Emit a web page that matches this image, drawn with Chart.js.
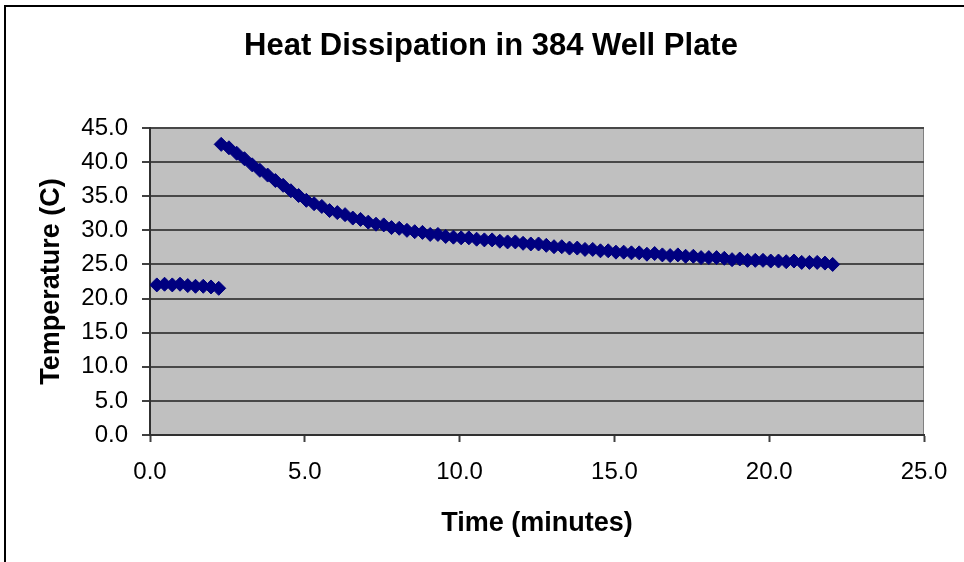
<!DOCTYPE html>
<html lang="en">
<head>
    <meta charset="UTF-8">
    <title>Heat Dissipation in 384 Well Plate</title>
    <script src="https://cdn.jsdelivr.net/npm/chart.js"></script>
    <style>
        body {
            margin: 0;
            background-color: #ffffff;
        }
        #heatChart {
            display: block;
        }
    </style>
</head>
<body>
    <canvas id="heatChart" width="964" height="562"></canvas>

    <script>
        // Readings before the plate was heated
        const warmTimes = [0.22, 0.47, 0.72, 0.97, 1.22, 1.47, 1.72, 1.97, 2.22];
        const warmTemps = [22.0, 22.1, 22.0, 22.1, 21.9, 21.8, 21.8, 21.7, 21.5];

        // Readings while the plate cools down
        const coolTimes = [
            2.30, 2.55, 2.80, 3.05, 3.30, 3.55, 3.80, 4.05, 4.30, 4.55,
            4.80, 5.05, 5.30, 5.55, 5.80, 6.05, 6.30, 6.55, 6.80, 7.05,
            7.30, 7.55, 7.80, 8.05, 8.30, 8.55, 8.80, 9.05, 9.30, 9.55,
            9.80, 10.05, 10.30, 10.55, 10.80, 11.05, 11.30, 11.55, 11.80, 12.05,
            12.30, 12.55, 12.80, 13.05, 13.30, 13.55, 13.80, 14.05, 14.30, 14.55,
            14.80, 15.05, 15.30, 15.55, 15.80, 16.05, 16.30, 16.55, 16.80, 17.05,
            17.30, 17.55, 17.80, 18.05, 18.30, 18.55, 18.80, 19.05, 19.30, 19.55,
            19.80, 20.05, 20.30, 20.55, 20.80, 21.05, 21.30, 21.55, 21.80, 22.05
        ];
        const coolTemps = [
            42.6, 42.1, 41.3, 40.5, 39.6, 38.8, 38.1, 37.3, 36.6, 35.8,
            35.1, 34.4, 33.9, 33.5, 32.9, 32.6, 32.3, 31.8, 31.6, 31.2,
            30.9, 30.8, 30.4, 30.3, 30.0, 29.8, 29.7, 29.4, 29.4, 29.1,
            29.0, 28.9, 28.9, 28.7, 28.6, 28.6, 28.4, 28.3, 28.3, 28.1,
            28.0, 28.0, 27.8, 27.6, 27.6, 27.4, 27.4, 27.2, 27.2, 27.0,
            27.0, 26.8, 26.8, 26.7, 26.7, 26.5, 26.6, 26.4, 26.3, 26.4,
            26.2, 26.2, 26.0, 26.0, 26.0, 25.9, 25.7, 25.8, 25.6, 25.6,
            25.6, 25.5, 25.5, 25.4, 25.5, 25.3, 25.3, 25.3, 25.2, 25.0
        ];

        const xTicks = [0, 5, 10, 15, 20, 25];
        const yTicks = [0, 5, 10, 15, 20, 25, 30, 35, 40, 45];

        const chartTitle = 'Heat Dissipation in 384 Well Plate';
        const xTitle = 'Time (minutes)';
        const yTitle = 'Temperature (C)';

        const FONT = "'Liberation Sans', Arial, sans-serif";

        const points = [];
        warmTimes.forEach((t, i) => points.push({ x: t, y: warmTemps[i] }));
        coolTimes.forEach((t, i) => points.push({ x: t, y: coolTemps[i] }));

        // grey plot area, frame lines and the heading
        const chartDecor = {
            id: 'chartDecor',
            beforeDraw(chart) {
                const { ctx, chartArea: a } = chart;
                ctx.save();
                ctx.fillStyle = '#ffffff';
                ctx.fillRect(0, 0, chart.width, chart.height);
                ctx.fillStyle = '#c0c0c0';
                ctx.fillRect(a.left, a.top, a.right - a.left, a.bottom - a.top);
                ctx.strokeStyle = '#808080';
                ctx.lineWidth = 1;
                ctx.strokeRect(a.left + 0.5, a.top + 0.5, a.right - a.left - 1, a.bottom - a.top - 1);

                ctx.strokeStyle = '#000000';
                ctx.lineWidth = 2;
                ctx.beginPath();
                ctx.moveTo(5, chart.height);
                ctx.lineTo(5, 6);
                ctx.lineTo(chart.width, 6);
                ctx.stroke();

                ctx.fillStyle = '#000000';
                ctx.font = 'bold 31px ' + FONT;
                ctx.textAlign = 'center';
                ctx.textBaseline = 'alphabetic';
                ctx.fillText(chartTitle, 491, 55);
                ctx.restore();
            }
        };

        new Chart(document.getElementById('heatChart'), {
            type: 'scatter',
            data: {
                datasets: [{
                    label: 'Temperature',
                    data: points,
                    pointStyle: 'rectRot',
                    pointRadius: 7,
                    pointHoverRadius: 7,
                    borderWidth: 1,
                    borderColor: '#000080',
                    backgroundColor: '#000080'
                }]
            },
            options: {
                responsive: false,
                animation: false,
                devicePixelRatio: 1,
                layout: {
                    padding: { top: 128, right: 40, bottom: 0, left: 0 }
                },
                plugins: {
                    legend: { display: false },
                    tooltip: { enabled: false }
                },
                scales: {
                    x: {
                        type: 'linear',
                        min: 0,
                        max: 25,
                        afterBuildTicks: scale => {
                            scale.ticks = xTicks.map(v => ({ value: v }));
                        },
                        afterFit: scale => {
                            scale.height = 127;
                        },
                        grid: {
                            drawOnChartArea: false,
                            drawTicks: true,
                            tickLength: 7,
                            tickColor: '#404040',
                            tickWidth: 2
                        },
                        border: { color: '#303030', width: 2 },
                        ticks: {
                            padding: 16,
                            color: '#000000',
                            font: { family: FONT, size: 24 },
                            callback: v => v.toFixed(1)
                        },
                        title: {
                            display: true,
                            text: xTitle,
                            color: '#000000',
                            font: { family: FONT, size: 27, weight: 'bold' },
                            padding: { top: 0, bottom: 22 }
                        }
                    },
                    y: {
                        type: 'linear',
                        min: 0,
                        max: 45,
                        afterBuildTicks: scale => {
                            scale.ticks = yTicks.map(v => ({ value: v }));
                        },
                        afterFit: scale => {
                            scale.width = 150;
                        },
                        grid: {
                            color: '#484848',
                            lineWidth: 2,
                            drawTicks: true,
                            tickLength: 8,
                            tickColor: '#404040',
                            tickWidth: 2
                        },
                        border: { color: '#303030', width: 2 },
                        ticks: {
                            padding: 14,
                            color: '#000000',
                            font: { family: FONT, size: 24 },
                            callback: v => v.toFixed(1)
                        },
                        title: {
                            display: true,
                            text: yTitle,
                            color: '#000000',
                            font: { family: FONT, size: 27, weight: 'bold' },
                            padding: { top: 35, bottom: 0 }
                        }
                    }
                }
            },
            plugins: [chartDecor]
        });
    </script>
</body>
</html>
